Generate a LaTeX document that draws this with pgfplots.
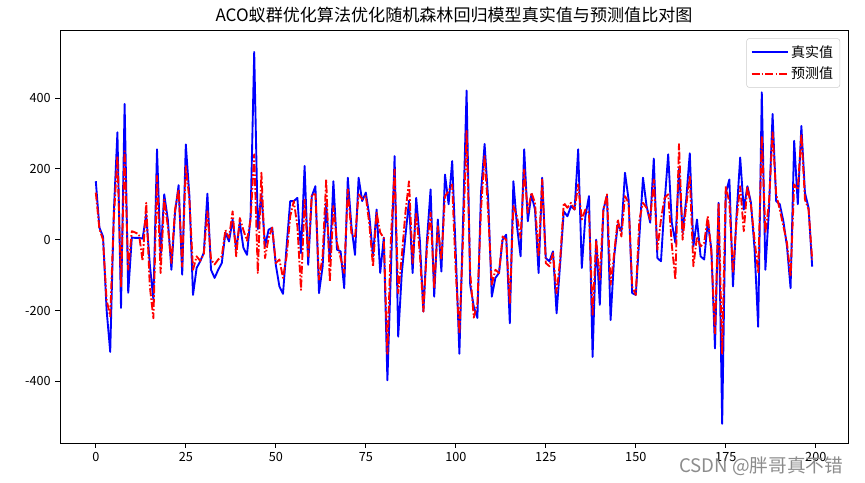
\documentclass[border=0pt]{standalone}
\usepackage{fontspec}
\setmainfont{Noto Sans CJK SC}
\usepackage{pgfplots}
\usepackage{pgfplotstable}
\pgfplotsset{compat=1.18}
\pgfplotstableread{
i real pred
0 165 133
1 34 30
2 9 0
3 -199 -170
4 -317 -217
5 77 60
6 303 236
7 -193 -132
8 383 250
9 -150 -85
10 6 24
11 5 20
12 5 15
13 3 -60
14 71 104
15 -70 -132
16 -170 -222
17 255 180
18 -47 -94
19 128 113
20 57 38
21 -85 -66
22 76 85
23 154 142
24 -99 -76
25 269 208
26 123 113
27 -156 -85
28 -80 -47
29 -61 -60
30 -37 -40
31 130 80
32 -85 -56
33 -108 -70
34 -85 -56
35 -66 -47
36 20 27
37 -5 5
38 57 80
39 -28 -47
40 48 61
41 -23 27
42 -43 -3
43 66 57
44 530 241
45 30 -94
46 130 189
47 -19 -52
48 28 5
49 34 34
50 -71 -66
51 -132 -56
52 -153 -108
53 -19 -47
54 109 66
55 109 109
56 118 38
57 -38 -142
58 208 113
59 -71 -47
60 123 128
61 151 128
62 -151 -113
63 -76 -47
64 104 170
65 -61 -118
66 165 95
67 -28 -9
68 -33 -52
69 -137 -94
70 175 142
71 38 19
72 -43 5
73 175 128
74 109 115
75 133 123
76 66 43
77 -47 -76
78 85 76
79 -94 20
80 6 5
81 -397 -322
82 -80 9
83 236 198
84 -274 -151
85 -94 -47
86 9 76
87 110 165
88 -94 -66
89 118 76
90 0 -38
91 -203 -203
92 0 -19
93 142 76
94 -161 -137
95 57 38
96 -90 -56
97 184 123
98 100 137
99 222 156
100 -40 -94
101 -322 -265
102 48 0
103 421 307
104 -128 -94
105 -189 -220
106 -221 -180
107 133 85
108 270 236
109 113 76
110 -161 -127
111 -108 -85
112 -94 -94
113 0 9
114 14 0
115 -236 -179
116 165 95
117 38 66
118 -47 5
119 255 198
120 52 76
121 128 133
122 85 104
123 -94 -47
124 175 170
125 -52 -66
126 -61 -75
127 -33 -38
128 -208 -151
129 -66 -56
130 80 104
131 66 90
132 95 104
133 85 85
134 255 156
135 -80 57
136 66 85
137 123 76
138 -331 -212
139 0 0
140 -184 -113
141 85 85
142 123 128
143 -227 -127
144 -47 -38
145 43 57
146 24 9
147 189 123
148 113 104
149 -151 -132
150 -156 -156
151 9 57
152 175 104
153 95 90
154 48 57
155 229 170
156 -52 -28
157 -61 57
158 104 118
159 241 128
160 48 -14
161 -9 -113
162 200 270
163 20 0
164 113 95
165 244 180
166 -19 -75
167 57 9
168 -47 -19
169 -56 -9
170 52 66
171 -28 -38
172 -307 -265
173 104 104
174 -520 -322
175 132 151
176 170 104
177 -132 -94
178 71 57
179 232 151
180 85 24
181 151 151
182 104 95
183 -28 0
184 -246 -94
185 416 293
186 -85 20
187 85 104
188 355 303
189 109 128
190 100 85
191 52 38
192 -19 -9
193 -137 -104
194 279 156
195 100 142
196 321 298
197 132 113
198 90 85
199 -76 -56
}\datatable
\begin{document}
\begin{tikzpicture}
\path[use as bounding box] (-45pt,-29.25pt) rectangle (603.75pt,332.5pt);
\begin{axis}[
  scale only axis,
  width=591pt, height=310pt,
  xmin=-9.95, xmax=208.95,
  ymin=-575, ymax=592,
  xtick={0,25,...,200},
  ytick={-400,-200,0,200,400},
  tick align=outside,
  tick pos=left,
  major tick length=3.5pt,
  tick style={black, line width=0.6pt},
  axis line style={line width=0.6pt},
  ticklabel style={font=\fontsize{9.5}{11}\selectfont},
  /pgf/number format/assume math mode=true,
  title={ACO蚁群优化算法优化随机森林回归模型真实值与预测值比对图},
  title style={font=\fontsize{12.8}{14}\selectfont, yshift=-4pt},
  legend style={font=\fontsize{10.5}{12}\selectfont, draw=black!20, rounded corners=2pt, inner sep=3pt, row sep=2pt, at={(0.99,0.98)}, anchor=north east},
  legend cell align=left,
  legend image code/.code={\draw[#1] (0cm,0cm) -- (0.95cm,0cm);},
]
\addplot[blue, line width=1.4pt, line join=round] table[x=i, y=real] {\datatable};
\addlegendentry{真实值}
\addplot[red, line width=1.4pt, line join=round, dash pattern=on 6pt off 1.6pt on 1.2pt off 1.6pt] table[x=i, y=pred] {\datatable};
\addlegendentry{预测值}
\end{axis}
\node[anchor=east, text=black!45, font=\fontsize{14}{16}\selectfont] at (591pt,-17pt) {CSDN @胖哥真不错};
\end{tikzpicture}
\end{document}
